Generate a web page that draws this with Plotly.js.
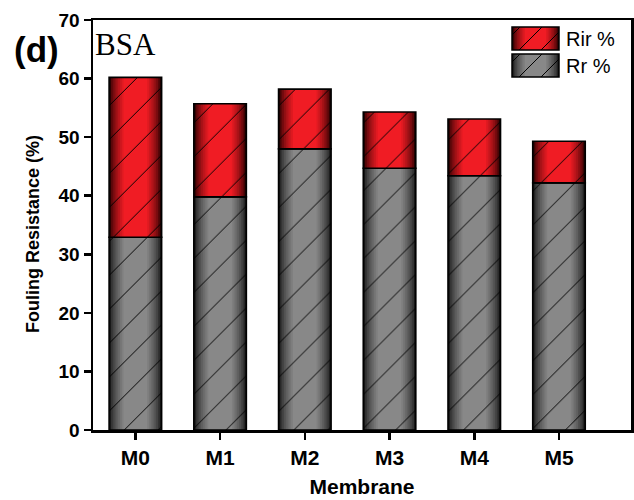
<!DOCTYPE html>
<html>
<head>
<meta charset="utf-8">
<script src="https://cdn.plot.ly/plotly-3.0.1.min.js"></script>
<style>html,body{margin:0;padding:0;background:#fff;}#chart{width:634px;height:500px;}</style>
</head>
<body>
<div id="chart"></div>
<script>
const categories = ['M0', 'M1', 'M2', 'M3', 'M4', 'M5'];
const rrValues = [32.9, 39.8, 48.0, 44.7, 43.4, 42.2];
const rirValues = [27.3, 15.9, 10.2, 9.6, 9.7, 7.1];
const seriesNames = ['Rr %', 'Rir %'];
const yTicks = [0, 10, 20, 30, 40, 50, 60, 70];

const BAR_W = 0.62;
const N_LAYERS = 9;
const grayEdge = [22, 22, 22], grayCenter = [136, 136, 136];
const redEdge = [35, 0, 0], redCenter = [240, 28, 36];

function mix(a, b, t) {
  return 'rgb(' + a.map((v, i) => Math.round(v + (b[i] - v) * t)).join(',') + ')';
}

const rirBase = rrValues.slice();
const traces = [];
function addSeries(yvals, base, edge, center, name) {
  for (let k = 0; k < N_LAYERS; k++) {
    const t = Math.pow(k / (N_LAYERS - 1), 0.65);
    const w = BAR_W * (1 - 0.55 * k / (N_LAYERS - 1));
    const tr = {
      type: 'bar', x: categories, y: yvals, width: w,
      marker: {color: mix(edge, center, t), line: {width: 0}},
      showlegend: false, hoverinfo: 'skip', name: name
    };
    if (base) tr.base = base;
    traces.push(tr);
  }
  const hatch = {
    type: 'bar', x: categories, y: yvals, width: BAR_W, name: name,
    marker: {
      color: 'rgba(0,0,0,0)',
      line: {color: '#000', width: 1.6},
      pattern: {shape: '/', size: 24, solidity: 0.04, fgcolor: '#000', fillmode: 'replace'}
    },
    showlegend: false
  };
  if (base) hatch.base = base;
  traces.push(hatch);
}
addSeries(rrValues, null, grayEdge, grayCenter, seriesNames[0]);
addSeries(rirValues, rirBase, redEdge, redCenter, seriesNames[1]);

// Custom legend (pixel geometry -> paper coords)
const PL = 93, PR = 631, PT = 20, PB = 430;
const px = x => (x - PL) / (PR - PL);
const py = y => (PB - y) / (PB - PT);
const shapes = [];
function legendBox(x0, y0, x1, y1, edge, center) {
  const w = x1 - x0;
  for (let k = 0; k < N_LAYERS; k++) {
    const t = Math.pow(k / (N_LAYERS - 1), 0.65);
    const f = (1 - 0.55 * k / (N_LAYERS - 1));
    const cx = (x0 + x1) / 2, hw = w * f / 2;
    shapes.push({type: 'rect', xref: 'paper', yref: 'paper', x0: px(cx - hw), x1: px(cx + hw), y0: py(y1), y1: py(y0),
      fillcolor: mix(edge, center, t), line: {width: 0}});
  }
  const period = 22;
  for (let s = x0 - (y1 - y0) + 8; s < x1; s += period) {
    let ax = s, ay = y1, bx = s + (y1 - y0), by = y0;
    if (ax < x0) { ay -= (x0 - ax); ax = x0; }
    if (bx > x1) { by += (bx - x1); bx = x1; }
    if (ax >= bx) continue;
    shapes.push({type: 'line', xref: 'paper', yref: 'paper', x0: px(ax), y0: py(ay), x1: px(bx), y1: py(by),
      line: {color: '#000', width: 1}});
  }
  shapes.push({type: 'rect', xref: 'paper', yref: 'paper', x0: px(x0), x1: px(x1), y0: py(y1), y1: py(y0),
    fillcolor: 'rgba(0,0,0,0)', line: {color: '#000', width: 1.5}});
}
legendBox(512, 27, 559, 50, redEdge, redCenter);
legendBox(512, 54, 559, 77, grayEdge, grayCenter);

const annotations = [
  {text: seriesNames[1], xref: 'paper', yref: 'paper', x: px(564), y: py(38.5), xanchor: 'left', yanchor: 'middle',
    showarrow: false, font: {family: 'Liberation Sans, Arial', size: 20, color: '#000'}},
  {text: seriesNames[0], xref: 'paper', yref: 'paper', x: px(564), y: py(65.5), xanchor: 'left', yanchor: 'middle',
    showarrow: false, font: {family: 'Liberation Sans, Arial', size: 20, color: '#000'}},
  {text: 'BSA', xref: 'paper', yref: 'paper', x: px(93), y: py(44), xanchor: 'left', yanchor: 'middle',
    showarrow: false, font: {family: 'Liberation Serif, Times New Roman', size: 31, color: '#000'}},
  {text: '<b>(d)</b>', xref: 'paper', yref: 'paper', x: px(12), y: py(50), xanchor: 'left', yanchor: 'middle',
    showarrow: false, font: {family: 'Liberation Sans, Arial', size: 35, color: '#000'}},
  {text: '<b>Fouling Resistance (%)</b>', xref: 'paper', yref: 'paper', x: px(33), y: py(234), xanchor: 'center', yanchor: 'middle',
    textangle: -90, showarrow: false, font: {family: 'Liberation Sans, Arial', size: 18, color: '#000'}}
];

const layout = {
  width: 634, height: 500,
  margin: {l: PL, r: 634 - PR, t: PT, b: 500 - PB},
  paper_bgcolor: '#fff', plot_bgcolor: '#fff',
  barmode: 'overlay',
  showlegend: false,
  xaxis: {
    type: 'category', range: [-0.5, 5.85],
    showline: true, linecolor: '#000', linewidth: 2.5, mirror: true,
    ticks: 'outside', ticklen: 7, tickwidth: 2.5, tickcolor: '#000',
    showgrid: false, zeroline: false,
    tickfont: {family: 'Liberation Sans, Arial', size: 21, color: '#000', weight: 'bold'},
    title: {text: '<b>Membrane</b>', font: {family: 'Liberation Sans, Arial', size: 21, color: '#000'}, standoff: 12}
  },
  yaxis: {
    range: [0, 70], tickvals: yTicks, ticktext: yTicks.map(String),
    showline: true, linecolor: '#000', linewidth: 2.5, mirror: true,
    ticks: 'outside', ticklen: 7, tickwidth: 2.5, tickcolor: '#000',
    showgrid: false, zeroline: false,
    tickfont: {family: 'Liberation Sans, Arial', size: 19, color: '#000', weight: 'bold'}
  },
  shapes: shapes,
  annotations: annotations
};

Plotly.newPlot('chart', traces, layout, {displayModeBar: false, staticPlot: true});
</script>
</body>
</html>
